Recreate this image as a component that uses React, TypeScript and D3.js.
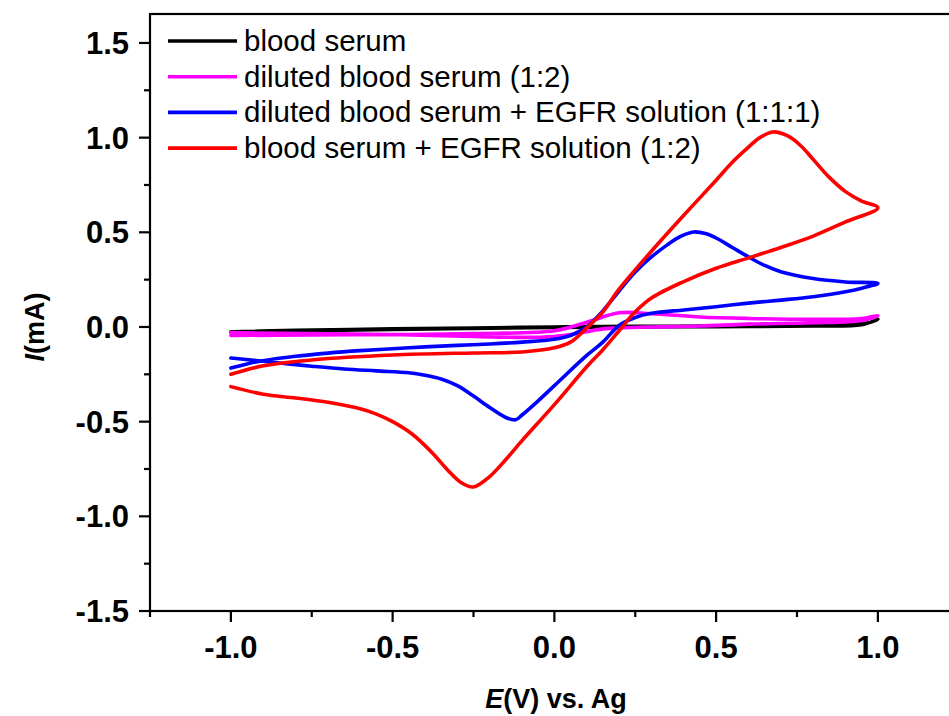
import React from "react";
import * as d3 from "d3";

// ---- data (x: potential V, y: current mA), each scan from x=-1 forward to +1 then back ----
const seriesNames = [
  "blood serum",
  "diluted blood serum (1:2)",
  "diluted blood serum + EGFR solution (1:1:1)",
  "blood serum + EGFR solution (1:2)",
];
const seriesColors = ["#000000", "#ff00ff", "#0000ff", "#ff0000"];

const bloodSerum: [number, number][] = [
  [-1.0, -0.025], [-0.8, -0.018], [-0.5, -0.01], [-0.25, -0.005], [0.0, 0.0], [0.25, 0.003],
  [0.5, 0.005], [0.75, 0.008], [0.9, 0.012], [0.97, 0.022], [1.0, 0.04],
  [0.95, 0.012], [0.8, 0.005], [0.5, 0.002], [0.2, 0.0], [0.0, -0.003], [-0.5, -0.013], [-1.0, -0.028],
];

const dilutedSerum: [number, number][] = [
  [-1.0, -0.045], [-0.75, -0.042], [-0.5, -0.04], [-0.25, -0.035], [0.0, -0.02], [0.1, 0.025],
  [0.2, 0.075], [0.3, 0.07], [0.45, 0.053], [0.6, 0.045], [0.8, 0.04], [0.95, 0.045], [1.0, 0.06],
  [0.95, 0.035], [0.8, 0.022], [0.6, 0.015], [0.45, 0.005], [0.3, 0.0], [0.2, -0.005], [0.15, -0.01],
  [0.05, -0.04], [0.0, -0.05], [-0.1, -0.055], [-0.25, -0.05], [-0.5, -0.04], [-0.75, -0.035], [-1.0, -0.03],
];

const dilutedEgfr: [number, number][] = [
  [-1.0, -0.217], [-0.95, -0.195], [-0.9, -0.178], [-0.8, -0.155], [-0.7, -0.138], [-0.6, -0.125],
  [-0.5, -0.115], [-0.4, -0.105], [-0.3, -0.097], [-0.2, -0.09], [-0.1, -0.08], [0.0, -0.065],
  [0.05, -0.045], [0.08, -0.02], [0.1, 0.0], [0.15, 0.085], [0.2, 0.19], [0.25, 0.29], [0.3, 0.37],
  [0.35, 0.435], [0.39, 0.478], [0.43, 0.502], [0.47, 0.492], [0.5, 0.47], [0.55, 0.42], [0.6, 0.37],
  [0.65, 0.325], [0.7, 0.292], [0.8, 0.256], [0.9, 0.238], [1.0, 0.23],
  [0.95, 0.205], [0.9, 0.186], [0.8, 0.16], [0.7, 0.142], [0.6, 0.126], [0.5, 0.107], [0.4, 0.09],
  [0.3, 0.072], [0.25, 0.05], [0.2, 0.008], [0.15, -0.08], [0.1, -0.15], [0.0, -0.31], [-0.05, -0.39],
  [-0.1, -0.465], [-0.12, -0.49], [-0.15, -0.478], [-0.2, -0.425], [-0.25, -0.365], [-0.3, -0.31],
  [-0.35, -0.275], [-0.4, -0.255], [-0.45, -0.242], [-0.55, -0.232], [-0.65, -0.222], [-0.75, -0.207],
  [-0.85, -0.19], [-0.9, -0.181], [-1.0, -0.164],
];

const serumEgfr: [number, number][] = [
  [-1.0, -0.25], [-0.9, -0.205], [-0.75, -0.174], [-0.5, -0.148], [-0.25, -0.137], [-0.1, -0.132],
  [0.0, -0.11], [0.05, -0.08], [0.1, -0.005], [0.15, 0.08], [0.2, 0.2], [0.3, 0.4], [0.4, 0.59],
  [0.5, 0.775], [0.55, 0.87], [0.6, 0.95], [0.635, 1.0], [0.675, 1.03], [0.72, 1.01], [0.76, 0.96],
  [0.8, 0.885], [0.85, 0.79], [0.9, 0.715], [0.95, 0.665], [1.0, 0.63],
  [0.9, 0.555], [0.8, 0.48], [0.7, 0.42], [0.6, 0.365], [0.5, 0.31], [0.4, 0.24], [0.3, 0.153],
  [0.25, 0.08], [0.2, -0.02], [0.15, -0.12], [0.1, -0.21], [0.0, -0.41], [-0.1, -0.6], [-0.15, -0.7],
  [-0.2, -0.79], [-0.25, -0.845], [-0.29, -0.82], [-0.33, -0.755], [-0.38, -0.66], [-0.44, -0.565],
  [-0.5, -0.5], [-0.55, -0.46], [-0.6, -0.432], [-0.7, -0.398], [-0.8, -0.375], [-0.9, -0.355], [-1.0, -0.315],
];

const seriesData = [bloodSerum, dilutedSerum, dilutedEgfr, serumEgfr];

const xMajorTicks = [-1.0, -0.5, 0.0, 0.5, 1.0];
const xMinorTicks = [-1.25, -0.75, -0.25, 0.25, 0.75, 1.25];
const yMajorTicks = [-1.5, -1.0, -0.5, 0.0, 0.5, 1.0, 1.5];
const yMinorTicks = [-1.25, -0.75, -0.25, 0.25, 0.75, 1.25];

const W = 949;
const H = 716;
const left = 150;
const right = 958.75;
const top = 14;
const bottom = 611;

export default function App() {
  const x = d3.scaleLinear().domain([-1.25, 1.25]).range([left, right]);
  const y = d3.scaleLinear().domain([-1.5, 1.653]).range([bottom, top]);
  const line = d3
    .line<[number, number]>()
    .x((d) => x(d[0]))
    .y((d) => y(d[1]))
    .curve(d3.curveCatmullRom.alpha(0.5));

  const font = "'Liberation Sans', Arial, sans-serif";

  return (
    <svg
      width={W}
      height={H}
      style={{ position: "absolute", left: 0, top: 0, background: "#fff" }}
      fontFamily={font}
    >
      <rect x={0} y={0} width={W} height={H} fill="#fff" />
      <defs>
        <clipPath id="clip">
          <rect x={left} y={top} width={right - left} height={bottom - top} />
        </clipPath>
      </defs>
      {/* curves */}
      <g clipPath="url(#clip)">
        {seriesData.map((d, i) => (
          <path key={i} d={line(d) || ""} fill="none" stroke={seriesColors[i]} strokeWidth={3.6} strokeLinejoin="round" strokeLinecap="round" />
        ))}
      </g>
      {/* frame */}
      <rect x={left} y={top} width={right - left} height={bottom - top} fill="none" stroke="#000" strokeWidth={2.2} />
      {/* y ticks */}
      {yMajorTicks.map((t) => (
        <g key={"ym" + t}>
          <line x1={left - 11} x2={left} y1={y(t)} y2={y(t)} stroke="#000" strokeWidth={2.2} />
          <text x={129} y={y(t) + 11} textAnchor="end" fontSize={31} fontWeight="bold">
            {t.toFixed(1)}
          </text>
        </g>
      ))}
      {yMinorTicks.map((t) => (
        <line key={"yn" + t} x1={left - 6} x2={left} y1={y(t)} y2={y(t)} stroke="#000" strokeWidth={2.2} />
      ))}
      {/* x ticks */}
      {xMajorTicks.map((t) => (
        <g key={"xm" + t}>
          <line x1={x(t)} x2={x(t)} y1={bottom} y2={bottom + 11} stroke="#000" strokeWidth={2.2} />
          <text x={x(t)} y={658} textAnchor="middle" fontSize={31} fontWeight="bold">
            {t.toFixed(1)}
          </text>
        </g>
      ))}
      {xMinorTicks.map((t) => (
        <line key={"xn" + t} x1={x(t)} x2={x(t)} y1={bottom} y2={bottom + 6} stroke="#000" strokeWidth={2.2} />
      ))}
      {/* axis titles */}
      <text x={556} y={708} textAnchor="middle" fontSize={27} fontWeight="bold">
        <tspan fontStyle="italic">E</tspan>(V) vs. Ag
      </text>
      <text transform={`translate(44, ${y(0)}) rotate(-90)`} textAnchor="middle" fontSize={27} fontWeight="bold">
        <tspan fontStyle="italic">I</tspan>(mA)
      </text>
      {/* legend */}
      {seriesNames.map((n, i) => (
        <g key={n}>
          <line x1={168} x2={237} y1={41 + i * 35.7} y2={41 + i * 35.7} stroke={seriesColors[i]} strokeWidth={3.6} />
          <text x={244} y={41 + i * 35.7 + 10} fontSize={29.5}>
            {n}
          </text>
        </g>
      ))}
    </svg>
  );
}
